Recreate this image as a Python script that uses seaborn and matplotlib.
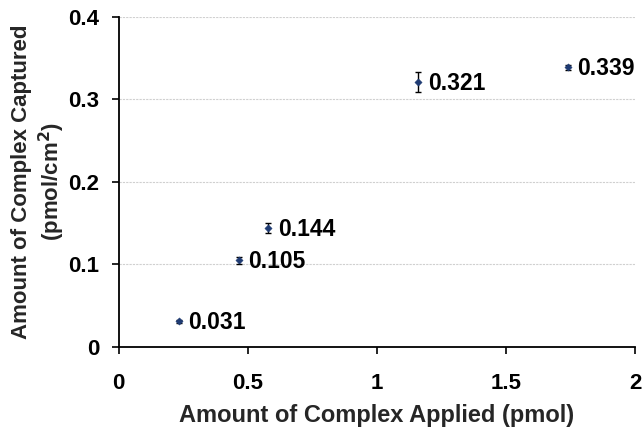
import numpy as np
import pandas as pd
import matplotlib
matplotlib.use("Agg")
import matplotlib.pyplot as plt
import seaborn as sns

# data
applied = [0.232, 0.464, 0.58, 1.16, 1.74]
captured = [0.031, 0.105, 0.144, 0.321, 0.339]
errors = [0.002, 0.004, 0.006, 0.012, 0.003]
labels = ["0.031", "0.105", "0.144", "0.321", "0.339"]

df = pd.DataFrame({"applied": applied, "captured": captured, "err": errors})

sns.set_theme(style="white")
plt.rcParams['font.family'] = ['Liberation Sans', 'DejaVu Sans']
plt.rcParams['font.weight'] = 'bold'

fig = plt.figure(figsize=(6.42, 4.32), dpi=100)
ax = fig.add_axes([0.185, 0.197, 0.804, 0.764])

# gridlines
for yv in [0.1, 0.2, 0.3, 0.4]:
    ax.axhline(yv, color='#d0d0d0', linestyle=(0, (2, 1)), linewidth=0.8, zorder=0)

ax.errorbar(df["applied"], df["captured"], yerr=df["err"], fmt='none',
            ecolor='black', elinewidth=1, capsize=2.5, capthick=1, zorder=2)
sns.scatterplot(data=df, x="applied", y="captured", marker='D', s=14,
                color='#1f3b73', edgecolor='#1f3b73', ax=ax, zorder=3)

for x, y, lab in zip(applied, captured, labels):
    ax.annotate(lab, (x, y), xytext=(7, -1), textcoords='offset points',
                ha='left', va='center', fontsize=16.5, fontweight='bold', color='black')

ax.set_xlim(0, 2)
ax.set_ylim(0, 0.4)
ax.set_xticks([0, 0.5, 1, 1.5, 2])
ax.set_xticklabels(["0", "0.5", "1", "1.5", "2"])
ax.set_yticks([0, 0.1, 0.2, 0.3, 0.4])
ax.set_yticklabels(["0", "0.1", "0.2", "0.3", "0.4"])
ax.tick_params(axis='both', labelsize=16, direction='out', length=5, width=1.2,
               colors='black', bottom=True, left=True)
ax.tick_params(axis='x', pad=14)
ax.tick_params(axis='y', pad=9)
for lab in ax.get_xticklabels() + ax.get_yticklabels():
    lab.set_fontweight('bold')

sns.despine(ax=ax)
for s in ['left', 'bottom']:
    ax.spines[s].set_color('black')
    ax.spines[s].set_linewidth(1.3)

ax.set_xlabel("Amount of Complex Applied (pmol)", fontsize=17, fontweight='bold', labelpad=7)
ax.set_ylabel("Amount of Complex Captured\n(pmol/cm$\\mathbf{^2}$)", fontsize=16,
              fontweight='bold', labelpad=1, linespacing=1.2)

fig.savefig("out.png", dpi=100)
